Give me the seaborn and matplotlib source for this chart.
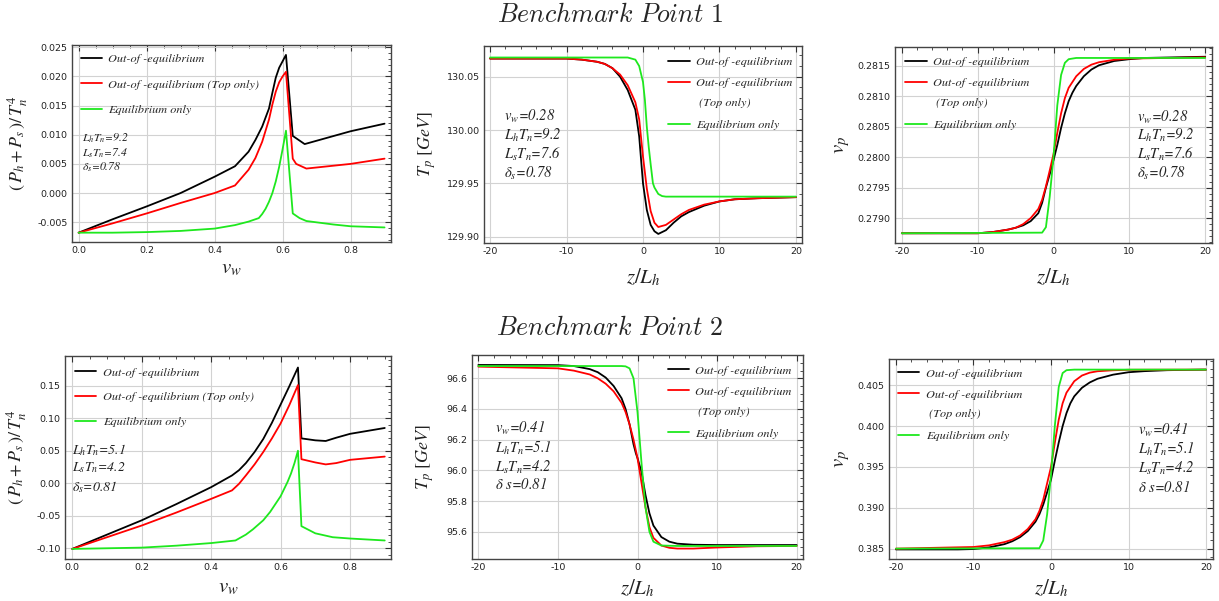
import numpy as np
import pandas as pd
import seaborn as sns
import matplotlib
matplotlib.use("Agg")
import matplotlib.pyplot as plt
from matplotlib.lines import Line2D
from matplotlib.ticker import FormatStrFormatter, AutoMinorLocator, MultipleLocator

# ---------------- data ----------------
# Benchmark point 1: pressure vs wall velocity
vw1_black = [0.0, 0.1, 0.2, 0.3, 0.4, 0.46, 0.5, 0.52, 0.54, 0.56, 0.57, 0.58, 0.59, 0.6, 0.61, 0.63, 0.64, 0.665, 0.8, 0.9]
p1_black = [-0.0068, -0.0045, -0.0023, 0.0000, 0.0028, 0.0046, 0.0071, 0.0091, 0.0114, 0.0145, 0.0172, 0.0198, 0.0215, 0.0226, 0.0237, 0.0098, 0.0094, 0.0084, 0.0106, 0.0119]
vw1_red = [0.0, 0.1, 0.2, 0.3, 0.4, 0.46, 0.5, 0.52, 0.54, 0.56, 0.57, 0.58, 0.59, 0.6, 0.61, 0.63, 0.64, 0.67, 0.8, 0.9]
p1_red = [-0.0068, -0.0052, -0.0035, -0.0017, 0.0000, 0.0013, 0.0040, 0.0060, 0.0088, 0.0126, 0.0152, 0.0174, 0.0190, 0.0200, 0.0208, 0.0059, 0.0050, 0.0042, 0.0050, 0.0059]
vw1_green = [0.0, 0.1, 0.2, 0.3, 0.4, 0.46, 0.5, 0.53, 0.54, 0.55, 0.56, 0.57, 0.58, 0.59, 0.6, 0.61, 0.63, 0.65, 0.67, 0.75, 0.8, 0.9]
p1_green = [-0.0068, -0.0068, -0.0067, -0.0065, -0.0061, -0.0055, -0.0049, -0.0043, -0.0036, -0.0027, -0.0015, 0.0000, 0.0020, 0.0045, 0.0075, 0.0107, -0.0035, -0.0043, -0.0048, -0.0054, -0.0057, -0.0059]

# Benchmark point 1: plasma temperature profile
z1_black = [-20, -10, -8, -6, -5, -4, -3, -2, -1, -0.5, 0, 0.5, 1, 1.5, 2, 3, 4, 5, 6, 8, 10, 12, 15, 20]
tp1_black = [130.067, 130.067, 130.066, 130.064, 130.062, 130.058, 130.050, 130.0375, 130.019, 129.994, 129.950, 129.925, 129.911, 129.905, 129.9025, 129.906, 129.913, 129.919, 129.923, 129.929, 129.933, 129.935, 129.936, 129.937]
z1_red = [-20, -10, -8, -6, -5, -4, -3, -2, -1, -0.5, 0, 0.5, 1, 1.5, 2, 3, 4, 5, 6, 8, 10, 12, 15, 20]
tp1_red = [130.067, 130.067, 130.066, 130.064, 130.062, 130.058, 130.052, 130.042, 130.026, 130.010, 129.975, 129.945, 129.924, 129.913, 129.909, 129.911, 129.916, 129.921, 129.925, 129.930, 129.933, 129.935, 129.936, 129.937]
z1_green = [-20, -2, -1.5, -1, -0.5, 0, 0.25, 0.5, 0.75, 1, 1.3, 1.5, 2, 2.5, 3, 20]
tp1_green = [130.068, 130.068, 130.067, 130.066, 130.060, 130.045, 130.028, 130.003, 129.984, 129.968, 129.950, 129.946, 129.940, 129.938, 129.9375, 129.9375]

# Benchmark point 1: plasma velocity profile
z1v_black = [-20, -10, -8, -6, -5, -4, -3, -2, -1.5, -1, -0.5, 0, 0.5, 1, 1.5, 2, 2.5, 3, 4, 5, 6, 8, 10, 12, 20]
vp1_black = [0.27875, 0.27875, 0.27877, 0.27881, 0.27884, 0.27888, 0.27895, 0.27908, 0.27925, 0.27950, 0.27972, 0.27995, 0.28020, 0.28048, 0.28072, 0.28092, 0.28106, 0.28117, 0.28133, 0.28144, 0.28151, 0.28158, 0.28161, 0.28163, 0.28165]
z1v_red = [-20, -10, -8, -6, -5, -4, -3, -2, -1.5, -1, -0.5, 0, 0.5, 1, 1.5, 2, 3, 4, 5, 6, 8, 10, 20]
vp1_red = [0.27875, 0.27875, 0.27877, 0.27881, 0.27884, 0.27890, 0.27900, 0.27915, 0.27930, 0.27952, 0.27978, 0.28005, 0.28040, 0.28072, 0.28097, 0.28114, 0.28133, 0.28145, 0.28152, 0.28156, 0.28160, 0.28162, 0.28164]
z1v_green = [-20, -1.5, -1, -0.5, 0, 0.5, 1, 1.5, 2, 3, 20]
vp1_green = [0.27875, 0.27876, 0.27885, 0.27935, 0.28000, 0.28085, 0.28135, 0.28155, 0.28161, 0.28163, 0.28163]

# Benchmark point 2: pressure vs wall velocity
vw2_black = [0.0, 0.1, 0.2, 0.3, 0.4, 0.46, 0.48, 0.5, 0.525, 0.55, 0.575, 0.6, 0.625, 0.65, 0.66, 0.7, 0.73, 0.76, 0.8, 0.9]
p2_black = [-0.101, -0.079, -0.057, -0.032, -0.006, 0.012, 0.020, 0.031, 0.048, 0.068, 0.093, 0.121, 0.149, 0.178, 0.069, 0.066, 0.065, 0.070, 0.076, 0.085]
vw2_red = [0.0, 0.1, 0.2, 0.3, 0.4, 0.46, 0.48, 0.5, 0.525, 0.55, 0.575, 0.6, 0.625, 0.65, 0.66, 0.7, 0.73, 0.76, 0.8, 0.9]
p2_red = [-0.101, -0.083, -0.065, -0.045, -0.024, -0.011, -0.001, 0.012, 0.029, 0.048, 0.069, 0.092, 0.120, 0.151, 0.037, 0.032, 0.029, 0.031, 0.036, 0.041]
vw2_green = [0.0, 0.2, 0.3, 0.4, 0.47, 0.5, 0.52, 0.55, 0.57, 0.6, 0.62, 0.63, 0.64, 0.65, 0.66, 0.7, 0.75, 0.8, 0.9]
p2_green = [-0.101, -0.099, -0.096, -0.092, -0.088, -0.079, -0.071, -0.057, -0.044, -0.020, 0.002, 0.015, 0.031, 0.050, -0.066, -0.077, -0.083, -0.085, -0.088]

# Benchmark point 2: plasma temperature profile
z2_black = [-20, -10, -8, -6, -5, -4, -3, -2, -1.5, -1, -0.5, -0.2, 0, 0.5, 1, 1.5, 2, 3, 4, 5, 7, 10, 20]
tp2_black = [96.687, 96.686, 96.680, 96.660, 96.640, 96.605, 96.550, 96.470, 96.400, 96.300, 96.170, 96.110, 96.080, 95.990, 95.840, 95.720, 95.640, 95.565, 95.535, 95.522, 95.515, 95.513, 95.513]
z2_red = [-20, -10, -8, -6, -5, -4, -3, -2, -1.5, -1, -0.5, 0, 0.5, 1, 1.5, 2, 3, 4, 5, 7, 10, 15, 20]
tp2_red = [96.676, 96.665, 96.650, 96.625, 96.600, 96.565, 96.515, 96.440, 96.380, 96.300, 96.200, 96.080, 95.920, 95.760, 95.630, 95.560, 95.510, 95.495, 95.490, 95.490, 95.497, 95.505, 95.507]
z2_green = [-20, -2, -1.5, -1, -0.5, 0, 0.5, 1, 1.5, 2, 3, 5, 20]
tp2_green = [96.680, 96.680, 96.678, 96.665, 96.600, 96.380, 96.050, 95.760, 95.600, 95.535, 95.510, 95.507, 95.507]

# Benchmark point 2: plasma velocity profile
z2v_black = [-20, -12, -10, -8, -6, -5, -4, -3, -2, -1.5, -1, -0.5, 0, 0.5, 1, 1.5, 2, 2.5, 3, 4, 5, 6, 8, 10, 12, 15, 20]
vp2_black = [0.38490, 0.38490, 0.38495, 0.38515, 0.38555, 0.38590, 0.38640, 0.38715, 0.38830, 0.38920, 0.39040, 0.39190, 0.39345, 0.39580, 0.39800, 0.40000, 0.40160, 0.40280, 0.40365, 0.40470, 0.40535, 0.40580, 0.40630, 0.40660, 0.40673, 0.40685, 0.40692]
z2v_red = [-20, -10, -8, -6, -5, -4, -3, -2, -1.5, -1, -0.5, 0, 0.5, 1, 1.5, 2, 3, 4, 5, 6, 8, 10, 20]
vp2_red = [0.38500, 0.38520, 0.38540, 0.38580, 0.38610, 0.38660, 0.38740, 0.38860, 0.38960, 0.39100, 0.39300, 0.39500, 0.39800, 0.40080, 0.40280, 0.40410, 0.40550, 0.40620, 0.40655, 0.40672, 0.40684, 0.40690, 0.40692]
z2v_green = [-20, -1.5, -1, -0.5, 0, 0.5, 1, 1.5, 2, 3, 20]
vp2_green = [0.38500, 0.38505, 0.38600, 0.38920, 0.39400, 0.40010, 0.40480, 0.40650, 0.40685, 0.40692, 0.40692]

labels_short = ["Out-of -equilibrium", "Out-of -equilibrium (Top only)", "Equilibrium only"]
labels_split = ["Out-of -equilibrium", "Out-of -equilibrium", " (Top only)", "Equilibrium only"]
notes_bp1_left = [r"$L_hT_n$=9.2", r"$L_sT_n$=7.4", r"$\delta_s$=0.78"]
notes_bp1 = [r"$v_w$=0.28", r"$L_hT_n$=9.2", r"$L_sT_n$=7.6", r"$\delta_s$=0.78"]
notes_bp2_left = [r"$L_hT_n$=5.1", r"$L_sT_n$=4.2", r"$\delta_s$=0.81"]
notes_bp2 = [r"$v_w$=0.41", r"$L_hT_n$=5.1", r"$L_sT_n$=4.2", r"$\delta$ s=0.81"]

colors = ["black", "#ff0000", "#1ee81e"]

# ---------------- style ----------------
sns.set_theme(style="whitegrid")
plt.rcParams["font.family"] = ["DejaVu Sans"]
plt.rcParams["mathtext.fontset"] = "stix"

W, H = 1219, 601
fig = plt.figure(figsize=(W / 100, H / 100), dpi=100)
fig.patch.set_facecolor("white")


def px_axes(l, t, r, b):
    return fig.add_axes([l / W, 1 - b / H, (r - l) / W, (b - t) / H])


serif_it = {"family": "STIXGeneral", "style": "italic"}


def style_axes(ax, xlim, ylim, xmaj, ymaj, yminor, xfmt, yfmt, xminor=5):
    ax.set_facecolor("white")
    ax.set_xlim(*xlim)
    ax.set_ylim(*ylim)
    ax.xaxis.set_major_locator(MultipleLocator(xmaj))
    ax.yaxis.set_major_locator(MultipleLocator(ymaj))
    ax.xaxis.set_minor_locator(AutoMinorLocator(xminor))
    ax.yaxis.set_minor_locator(AutoMinorLocator(yminor))
    ax.xaxis.set_major_formatter(FormatStrFormatter(xfmt))
    ax.yaxis.set_major_formatter(FormatStrFormatter(yfmt))
    ax.grid(True, which="major", color="#d2d2d2", lw=0.8)
    ax.grid(False, which="minor")
    ax.tick_params(which="both", direction="in", top=True, right=True, colors="#333333",
                   labelsize=6.8, labelcolor="#222222", pad=3)
    ax.tick_params(which="major", length=4, width=0.8)
    ax.tick_params(which="minor", length=2, width=0.6)
    for sp in ax.spines.values():
        sp.set_color("#444444")
        sp.set_linewidth(1.0)


def draw(ax, series, labels):
    for (xs, ys), c, lab in zip(series, colors, labels):
        df = pd.DataFrame({"x": xs, "y": ys})
        sns.lineplot(data=df, x="x", y="y", ax=ax, color=c, lw=1.3, sort=False,
                     estimator=None, label=lab, legend=False)


def legend(ax, split, x0, y0, spacing):
    h = [Line2D([], [], color=c, lw=1.3) for c in colors]
    if split:
        handles = [h[0], h[1], Line2D([], [], color="none"), h[2]]
        labs = labels_split
    else:
        handles = h
        labs = labels_short
    ax.legend(handles, labs, loc="upper left", bbox_to_anchor=(x0, y0), frameon=False,
              borderpad=0, borderaxespad=0, handlelength=1.75, handletextpad=0.5,
              labelspacing=spacing, prop=dict(size=8.8, **serif_it))


def notes(ax, texts, x0, ys, size):
    for t, y in zip(texts, ys):
        ax.text(x0, y, t, transform=ax.transAxes, ha="left", va="center",
                fontsize=size, color="#222222", **serif_it)


def labels(ax, xl, yl, xs, ys, xlab_y, ylab_x):
    ax.set_xlabel(xl, fontsize=xs, color="#222222")
    ax.set_ylabel(yl, fontsize=ys, color="#222222")
    ax.xaxis.label.set_va("center")
    ax.yaxis.label.set_va("center")
    ax.xaxis.set_label_coords(0.5, xlab_y)
    ax.yaxis.set_label_coords(ylab_x, 0.5)


pressure_label = r"$(\,P_h + P_s\,)/\,T_n^4$"

# ---------------- Benchmark Point 1 ----------------
ax = px_axes(72, 45, 391, 242)
draw(ax, [(vw1_black, p1_black), (vw1_red, p1_red), (vw1_green, p1_green)], labels_short)
style_axes(ax, (-0.0195, 0.919), (-0.0084, 0.0254), 0.2, 0.005, 5, "%.1f", "%.3f", xminor=4)
legend(ax, False, 0.028, 0.955, 1.2)
notes(ax, notes_bp1_left, 0.031, [0.528, 0.452, 0.381], 8.5)
labels(ax, r"$v_w$", pressure_label, 15, 13, -0.132, -0.169)

ax = px_axes(484, 46, 802, 243)
draw(ax, [(z1_black, tp1_black), (z1_red, tp1_red), (z1_green, tp1_green)], labels_short)
style_axes(ax, (-20.8, 20.8), (129.894, 130.0788), 10, 0.05, 5, "%d", "%.2f")
legend(ax, True, 0.579, 0.945, 0.85)
notes(ax, notes_bp1, 0.063, [0.64, 0.548, 0.447, 0.355], 10.5)
labels(ax, r"$z/L_h$", r"$T_p\ [GeV]$", 15, 13, -0.173, -0.179)

ax = px_axes(895, 47, 1212, 243)
draw(ax, [(z1v_black, vp1_black), (z1v_red, vp1_red), (z1v_green, vp1_green)], labels_short)
style_axes(ax, (-20.9, 20.9), (0.27859, 0.28181), 10, 0.0005, 5, "%d", "%.4f")
legend(ax, True, 0.032, 0.95, 0.85)
notes(ax, notes_bp1, 0.763, [0.643, 0.551, 0.454, 0.357], 10.5)
labels(ax, r"$z/L_h$", r"$v_p$", 15, 15, -0.173, -0.167)

# ---------------- Benchmark Point 2 ----------------
ax = px_axes(65, 356, 391, 559)
draw(ax, [(vw2_black, p2_black), (vw2_red, p2_red), (vw2_green, p2_green)], labels_short)
style_axes(ax, (-0.021, 0.918), (-0.1165, 0.1957), 0.2, 0.05, 5, "%.1f", "%.2f", xminor=4)
legend(ax, False, 0.031, 0.946, 1.15)
notes(ax, notes_bp2_left, 0.021, [0.537, 0.448, 0.355], 10)
labels(ax, r"$v_w$", pressure_label, 15, 13, -0.138, -0.147)

ax = px_axes(472, 355, 803, 559)
draw(ax, [(z2_black, tp2_black), (z2_red, tp2_red), (z2_green, tp2_green)], labels_short)
style_axes(ax, (-20.8, 20.8), (95.422, 96.752), 10, 0.2, 4, "%d", "%.1f")
legend(ax, True, 0.592, 0.95, 0.85)
notes(ax, notes_bp2, 0.07, [0.642, 0.544, 0.451, 0.363], 10.5)
labels(ax, r"$z/L_h$", r"$T_p\ [GeV]$", 15, 13, -0.142, -0.142)

ax = px_axes(889, 359, 1213, 559)
draw(ax, [(z2v_black, vp2_black), (z2v_red, vp2_red), (z2v_green, vp2_green)], labels_short)
style_axes(ax, (-20.9, 20.9), (0.38373, 0.40822), 10, 0.005, 5, "%d", "%.3f")
legend(ax, True, 0.028, 0.955, 0.85)
notes(ax, notes_bp2, 0.768, [0.645, 0.55, 0.455, 0.36], 10.5)
labels(ax, r"$z/L_h$", r"$v_p$", 15, 15, -0.145, -0.145)

# titles
fig.text(610 / W, 1 - 15 / H, r"$\mathit{Benchmark\ Point\ 1}$", math_fontfamily="cm",
         fontsize=18.7, ha="center", va="center")
fig.text(610 / W, 1 - 328 / H, r"$\mathit{Benchmark\ Point\ 2}$", math_fontfamily="cm",
         fontsize=18.7, ha="center", va="center")

fig.savefig("out.png", dpi=100, facecolor="white")
